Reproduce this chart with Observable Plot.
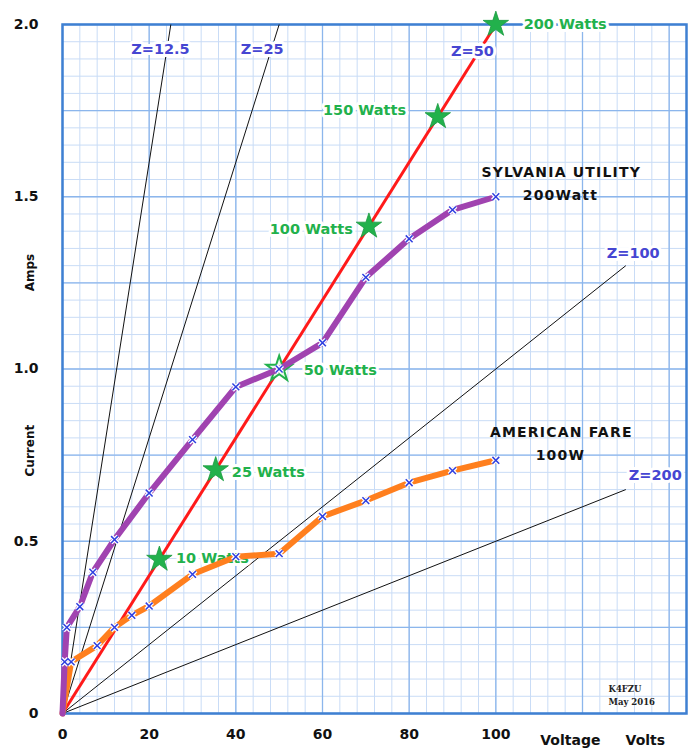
<!DOCTYPE html>
<html>
<head>
<meta charset="utf-8">
<script src="https://cdn.jsdelivr.net/npm/d3@7"></script>
<script src="https://cdn.jsdelivr.net/npm/@observablehq/plot@0.6"></script>
<style>
  html, body { margin: 0; padding: 0; background: #fff; }
  svg { display: block; }
</style>
</head>
<body>
<div id="chart"></div>
<script>
// ---- data ----
const xTicks = [0, 20, 40, 60, 80, 100];
const yTicks = [0, 0.5, 1.0, 1.5, 2.0];

const sylvaniaV = [0, 0.5, 1, 4, 7, 12, 20, 30, 40, 50, 60, 70, 80, 90, 100];
const sylvaniaI = [0, 0.15, 0.25, 0.31, 0.41, 0.505, 0.64, 0.795, 0.948, 1.0, 1.076, 1.266, 1.378, 1.462, 1.5];

const americanV = [0, 2, 8, 12, 16, 20, 30, 40, 50, 60, 70, 80, 90, 100];
const americanI = [0, 0.15, 0.197, 0.25, 0.285, 0.312, 0.404, 0.455, 0.464, 0.572, 0.618, 0.67, 0.705, 0.735];

const zValues = [12.5, 25, 50, 100, 200];
const zLineEndV = [25, 50, 100, 130, 130];
const zLabels = ["Z=12.5", "Z=25", "Z=50", "Z=100", "Z=200"];
const zLabelV = [22.6, 46.1, 94.6, 131.7, 136.8];
const zLabelI = [1.927, 1.927, 1.922, 1.335, 0.691];

const watts = [10, 25, 50, 100, 150, 200];
const wattLabels = ["10 Watts", "25 Watts", "50 Watts", "100 Watts", "150 Watts", "200 Watts"];
const wattLabelV = [34.6, 47.5, 64.1, 57.4, 69.7, 116];
const wattLabelI = [0.45, 0.70, 0.996, 1.405, 1.75, 2.0];
const starLoad = 50;

const notes = ["SYLVANIA UTILITY", "200Watt", "AMERICAN FARE", "100W"];
const noteV = [115.1, 114.9, 115.1, 114.9];
const noteI = [1.570, 1.504, 0.816, 0.749];

// ---- tables ----
const sylvania = sylvaniaV.map((v, i) => ({v, a: sylvaniaI[i]}));
const american = americanV.map((v, i) => ({v, a: americanI[i]}));
const zLines = zValues.map((z, i) => ({z, v2: zLineEndV[i], a2: zLineEndV[i] / z}));
const zText = zLabels.map((t, i) => ({t, v: zLabelV[i], a: zLabelI[i]}));
const stars = watts.map(p => { const v = Math.sqrt(p * starLoad); return {p, v, a: v / starLoad}; });
const wattText = wattLabels.map((t, i) => ({t, v: wattLabelV[i], a: wattLabelI[i]}));
const noteText = notes.map((t, i) => ({t, v: noteV[i], a: noteI[i]}));

const xMax = 144, yMax = 2;
const minorX = d3.range(0, xMax + 0.01, 4);
const majorX = d3.range(0, xMax + 0.01, 20);
const minorY = d3.range(0, yMax + 0.001, 0.05);
const majorY = d3.range(0, yMax + 0.001, 0.25);

const font = "'DejaVu Sans', Verdana, sans-serif";
const green = "#22b14c";
const zBlue = "#4646d2";

const plot = Plot.plot({
  width: 694,
  height: 749,
  marginLeft: 62,
  marginRight: 8,
  marginTop: 24,
  marginBottom: 36,
  style: {fontFamily: font, background: "#fff", overflow: "visible"},
  x: {domain: [0, xMax], axis: null},
  y: {domain: [0, yMax], axis: null},
  marks: [
    Plot.ruleX(minorX, {stroke: "#c9dcf6", strokeWidth: 1}),
    Plot.ruleY(minorY, {stroke: "#c9dcf6", strokeWidth: 1}),
    Plot.ruleX(majorX, {stroke: "#8cb6ec", strokeWidth: 1.3}),
    Plot.ruleY(majorY, {stroke: "#8cb6ec", strokeWidth: 1.3}),
    Plot.frame({stroke: "#3f80d2", strokeWidth: 2.5}),

    Plot.axisX({ticks: xTicks, tickSize: 0, tickPadding: 16, fontSize: 14, fontWeight: "bold", fill: "#111", tickFormat: d => String(d), label: null}),
    Plot.axisY({ticks: yTicks, tickSize: 0, tickPadding: 24, fontSize: 14, fontWeight: "bold", fill: "#111", tickFormat: d => d === 0 ? "0" : d.toFixed(1), label: null}),
    Plot.text(["Voltage", "Volts"], {x: [117.2, 134.5], y: [0, 0], dy: 27, fontSize: 14, fontWeight: "bold", fill: "#111"}),
    Plot.text(["Amps", "Current"], {x: [0, 0], y: [1.28, 0.763], dx: -32, rotate: -90, fontSize: 12, fontWeight: "bold", fill: "#111"}),

    // impedance lines
    Plot.link(zLines.filter(d => d.z !== 50), {x1: 0, y1: 0, x2: "v2", y2: "a2", stroke: "#111", strokeWidth: 1}),
    Plot.link(zLines.filter(d => d.z === 50), {x1: 0, y1: 0, x2: "v2", y2: "a2", stroke: "#ff1a1a", strokeWidth: 3}),

    // watt labels (under the series lines)
    Plot.text(wattText, {x: "v", y: "a", text: "t", fill: green, fontSize: 14.5, fontWeight: "bold", stroke: "white", strokeWidth: 6}),

    // stars
    Plot.dot(stars.filter(d => d.p !== 50), {x: "v", y: "a", symbol: "star", r: 8, fill: green, stroke: "#1c9a40", strokeWidth: 0.8}),
    Plot.dot(stars.filter(d => d.p === 50), {x: "v", y: "a", symbol: "star", r: 8, fill: "#eafaee", stroke: green, strokeWidth: 2}),

    // series
    Plot.line(american, {x: "v", y: "a", stroke: "#ff7f1e", strokeWidth: 6, strokeLinejoin: "round"}),
    Plot.line(sylvania, {x: "v", y: "a", stroke: "#a043b0", strokeWidth: 6, strokeLinejoin: "round"}),
    Plot.dot(american.slice(1), {x: "v", y: "a", symbol: "times", r: 3.2, stroke: "white", strokeWidth: 4}),
    Plot.dot(sylvania.slice(1), {x: "v", y: "a", symbol: "times", r: 3.2, stroke: "white", strokeWidth: 4}),
    Plot.dot(american.slice(1), {x: "v", y: "a", symbol: "times", r: 3.2, stroke: "#2f3fe0", strokeWidth: 1.5}),
    Plot.dot(sylvania.slice(1), {x: "v", y: "a", symbol: "times", r: 3.2, stroke: "#2f3fe0", strokeWidth: 1.5}),

    // labels
    Plot.text(zText, {x: "v", y: "a", text: "t", fill: zBlue, fontSize: 14.5, fontWeight: "bold", stroke: "white", strokeWidth: 6}),
    Plot.text(noteText, {x: "v", y: "a", text: "t", fill: "#111", fontSize: 14, fontWeight: "bold"}),
    Plot.text(["K4FZU", "May 2016"], {x: [126, 126], y: [0.07, 0.032], textAnchor: "start", fontSize: 8.5, fontWeight: "bold", fontFamily: "'DejaVu Serif', serif", fill: "#222"})
  ]
});
d3.select(plot).selectAll("text")
  .filter(function() { return notes.includes(this.textContent); })
  .attr("letter-spacing", "1.2px");
document.getElementById("chart").append(plot);
</script>
</body>
</html>
